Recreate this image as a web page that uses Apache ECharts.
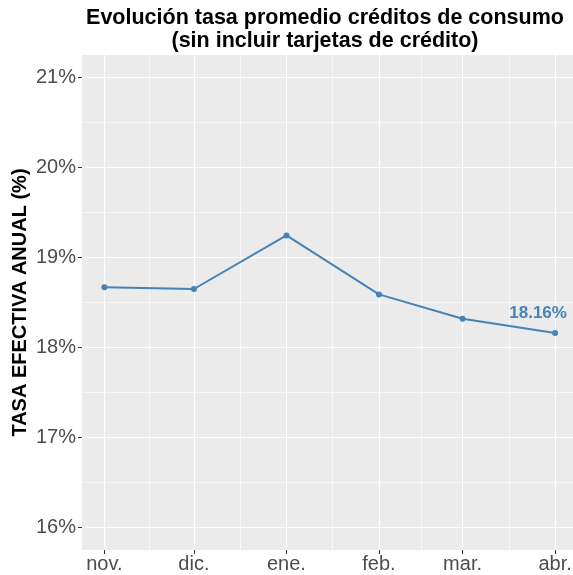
<!DOCTYPE html>
<html>
<head>
<meta charset="utf-8">
<script src="https://cdn.jsdelivr.net/npm/echarts@6/dist/echarts.min.js"></script>
<style>
html,body{margin:0;padding:0;background:#fff;}
#chart{width:573px;height:575px;}
</style>
</head>
<body>
<div id="chart"></div>
<script>
// ---- data ----
const monthLabels = ['nov.', 'dic.', 'ene.', 'feb.', 'mar.', 'abr.'];
const monthDates = [[2022, 11], [2022, 12], [2023, 1], [2023, 2], [2023, 3], [2023, 4]];
const rateValues = [18.67, 18.65, 19.245, 18.59, 18.32, 18.16];
const yTickValues = [16, 17, 18, 19, 20, 21];
const yMinorValues = [16.5, 17.5, 18.5, 19.5, 20.5];

// day offsets from first month
const DAY = 86400000;
const t0 = Date.UTC(monthDates[0][0], monthDates[0][1] - 1, 1);
const days = monthDates.map(([y, m]) => (Date.UTC(y, m - 1, 1) - t0) / DAY);
const mids = [];
for (let i = 0; i < days.length - 1; i++) mids.push((days[i] + days[i + 1]) / 2);
const seriesData = days.map((t, i) => [t, rateValues[i]]);

const xMin = days[0] - 7.5;
const xMax = days[days.length - 1] + 6;
const FONT = '"Liberation Sans", Arial, Helvetica, sans-serif';
const GRID = '#FFFFFF';

function monthLabel(v) {
  const i = days.indexOf(v);
  return i >= 0 ? monthLabels[i] : '';
}

const chart = echarts.init(document.getElementById('chart'), null, {renderer: 'canvas'});
chart.setOption({
  animation: false,
  backgroundColor: '#FFFFFF',
  textStyle: {fontFamily: FONT},
  graphic: [
    {type: 'text', x: 325, y: 7, style: {
      text: 'Evolución tasa promedio créditos de consumo\n(sin incluir tarjetas de crédito)',
      textAlign: 'center', align: 'center',
      font: 'bold 21.5px ' + FONT, fill: '#000000', lineHeight: 23
    }}
  ],
  grid: {
    left: 82, right: 0, top: 55, bottom: 25,
    outerBoundsMode: 'none',
    show: true, backgroundColor: '#EBEBEB', borderWidth: 0, containLabel: false
  },
  xAxis: [
    {
      type: 'value', min: xMin, max: xMax,
      axisLine: {show: false, onZero: false},
      axisTick: {show: true, length: 4, lineStyle: {color: '#333333', width: 1}, customValues: days},
      axisLabel: {customValues: days, formatter: monthLabel, color: '#4D4D4D', fontSize: 20, fontFamily: FONT, margin: 4},
      splitLine: {show: true, lineStyle: {color: GRID, width: 1.2}}
    },
    {
      type: 'value', min: xMin, max: xMax, position: 'bottom',
      axisLine: {show: false, onZero: false},
      axisTick: {show: false, customValues: mids},
      axisLabel: {show: false, customValues: mids},
      splitLine: {show: true, lineStyle: {color: GRID, width: 0.6}}
    }
  ],
  yAxis: [
    {
      type: 'value', min: 15.75, max: 21.25,
      name: 'TASA EFECTIVA ANUAL (%)', nameLocation: 'middle', nameGap: 52, nameRotate: 90,
      nameMoveOverlap: false,
      nameTextStyle: {fontFamily: FONT, fontWeight: 'bold', fontSize: 20, color: '#000000'},
      axisLine: {show: false, onZero: false},
      axisTick: {show: true, length: 4, lineStyle: {color: '#333333', width: 1}, customValues: yTickValues},
      axisLabel: {customValues: yTickValues, formatter: v => v + '%', color: '#4D4D4D', fontSize: 20, fontFamily: FONT, margin: 6},
      splitLine: {show: true, lineStyle: {color: GRID, width: 1.2}}
    },
    {
      type: 'value', min: 15.75, max: 21.25, position: 'left',
      axisLine: {show: false, onZero: false},
      axisTick: {show: false, customValues: yMinorValues},
      axisLabel: {show: false, customValues: yMinorValues},
      splitLine: {show: true, lineStyle: {color: GRID, width: 0.6}}
    }
  ],
  series: [{
    type: 'line',
    data: seriesData.map((d, i) => i === seriesData.length - 1 ? {
      value: d,
      label: {show: true, position: 'top', offset: [-17, -3],
        formatter: p => p.value[1].toFixed(2) + '%',
        color: '#4682B4', fontWeight: 'bold', fontSize: 17, fontFamily: FONT}
    } : d),
    symbol: 'circle', symbolSize: 6, showSymbol: true,
    lineStyle: {color: '#4682B4', width: 2},
    itemStyle: {color: '#4682B4'},
    clip: false
  }]
});
</script>
</body>
</html>
